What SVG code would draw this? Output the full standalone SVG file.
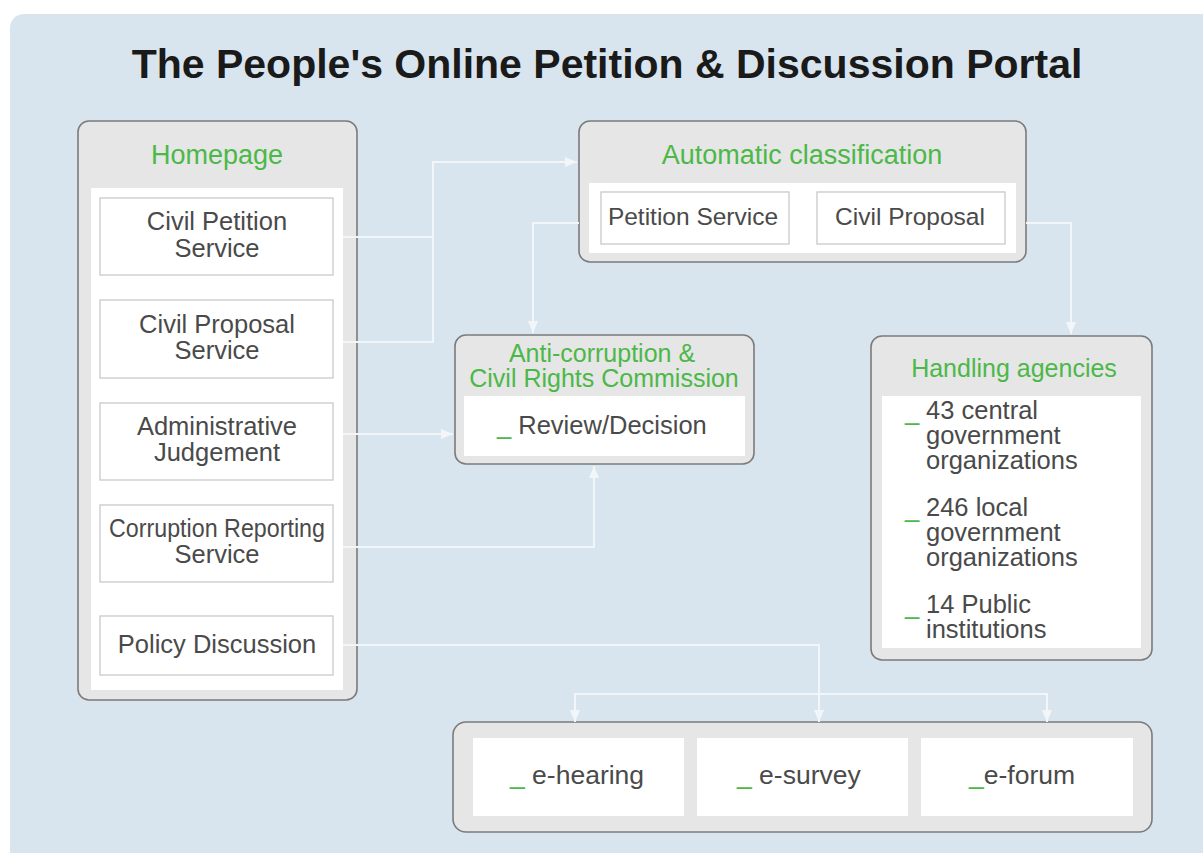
<svg xmlns="http://www.w3.org/2000/svg" width="1203" height="853" viewBox="0 0 1203 853">
<defs>
<style>
.box{fill:#e6e6e6;stroke:#7b7b7b;stroke-width:1.6}
.inner{fill:#ffffff}
.sub{fill:#ffffff;stroke:#c9c9c9;stroke-width:1.3}
.head{font-family:"Liberation Sans",Arial,sans-serif;font-size:27px;fill:#4cb848;text-anchor:middle}
.head2{font-family:"Liberation Sans",Arial,sans-serif;font-size:25px;fill:#4cb848;text-anchor:middle}
.txt{font-family:"Liberation Sans",Arial,sans-serif;font-size:25.5px;fill:#4a4a4a;text-anchor:middle}
.lt{font-family:"Liberation Sans",Arial,sans-serif;font-size:25.5px;fill:#4a4a4a}
.g{fill:#4cb848}
.conn{fill:none;stroke:#f3f6f8;stroke-width:2}
</style>
<marker id="ah" viewBox="0 0 12 10" refX="12" refY="5" markerWidth="12" markerHeight="10" markerUnits="userSpaceOnUse" orient="auto">
<path d="M0,0 L12,5 L0,10 Z" fill="#f3f6f8"/>
</marker>
</defs>
<rect x="0" y="0" width="1203" height="853" fill="#ffffff"/>
<rect x="10" y="14" width="1210" height="860" rx="14" fill="#d9e5ee"/>
<text x="607" y="78" font-family="Liberation Sans,Arial,sans-serif" font-size="41" font-weight="bold" fill="#1a1a1a" text-anchor="middle">The People's Online Petition &amp; Discussion Portal</text>

<g id="homepage">
<rect class="box" x="78" y="121" width="279" height="579" rx="11"/>
<rect class="inner" x="91" y="188" width="252" height="502"/>
<text class="head" x="217" y="164">Homepage</text>
</g>
<g id="civil-petition-service">
<rect class="sub" x="100" y="198" width="233" height="77"/>
<text class="txt" x="217" y="230">Civil Petition</text>
<text class="txt" x="217" y="257">Service</text>
</g>
<g id="civil-proposal-service">
<rect class="sub" x="100" y="300" width="233" height="78"/>
<text class="txt" x="217" y="333">Civil Proposal</text>
<text class="txt" x="217" y="359">Service</text>
</g>
<g id="administrative-judgement">
<rect class="sub" x="100" y="403" width="233" height="77"/>
<text class="txt" x="217" y="435">Administrative</text>
<text class="txt" x="217" y="461">Judgement</text>
</g>
<g id="corruption-reporting-service">
<rect class="sub" x="100" y="505" width="233" height="77"/>
<text class="txt" x="217" y="537" textLength="216" lengthAdjust="spacingAndGlyphs">Corruption Reporting</text>
<text class="txt" x="217" y="563">Service</text>
</g>
<g id="policy-discussion">
<rect class="sub" x="100" y="616" width="233" height="59"/>
<text class="txt" x="217" y="653">Policy Discussion</text>
</g>

<g id="automatic-classification">
<rect class="box" x="579" y="121" width="447" height="141" rx="11"/>
<rect class="inner" x="589" y="183" width="427" height="70"/>
<text class="head" x="802" y="164">Automatic classification</text>
</g>
<g id="petition-service">
<rect class="sub" x="601" y="192" width="188" height="52"/>
<text class="txt" x="693" y="225" style="font-size:24.5px">Petition Service</text>
</g>
<g id="civil-proposal">
<rect class="sub" x="817" y="192" width="188" height="52"/>
<text class="txt" x="910" y="225" style="font-size:24.5px">Civil Proposal</text>
</g>

<g id="acrc">
<rect class="box" x="455" y="335" width="299" height="129" rx="11"/>
<rect class="inner" x="464" y="396" width="281" height="60"/>
<text class="head2" x="602" y="362">Anti-corruption &amp;</text>
<text class="head2" x="604" y="387">Civil Rights Commission</text>
<text class="lt" x="497" y="434"><tspan class="g">_</tspan> Review/Decision</text>
</g>

<g id="handling-agencies">
<rect class="box" x="871" y="336" width="281" height="324" rx="11"/>
<rect class="inner" x="882" y="396" width="259" height="252"/>
<text class="head2" x="1014" y="377">Handling agencies</text>
<text class="lt" x="905" y="420"><tspan class="g">_</tspan></text>
<text class="lt" x="926" y="419">43 central</text>
<text class="lt" x="926" y="444">government</text>
<text class="lt" x="926" y="469">organizations</text>
<text class="lt" x="905" y="517"><tspan class="g">_</tspan></text>
<text class="lt" x="926" y="516">246 local</text>
<text class="lt" x="926" y="541">government</text>
<text class="lt" x="926" y="566">organizations</text>
<text class="lt" x="905" y="614"><tspan class="g">_</tspan></text>
<text class="lt" x="926" y="613">14 Public</text>
<text class="lt" x="926" y="638">institutions</text>
</g>

<g id="e-participation">
<rect class="box" x="453" y="722" width="699" height="110" rx="13"/>
</g>
<g id="e-hearing">
<rect class="inner" x="473" y="738" width="211" height="78"/>
<text class="lt" x="510" y="784" style="font-size:26.5px"><tspan class="g">_</tspan> e-hearing</text>
</g>
<g id="e-survey">
<rect class="inner" x="697" y="738" width="211" height="78"/>
<text class="lt" x="737" y="784" style="font-size:26.5px"><tspan class="g">_</tspan> e-survey</text>
</g>
<g id="e-forum">
<rect class="inner" x="921" y="738" width="212" height="78"/>
<text class="lt" x="969" y="784" style="font-size:26.5px"><tspan class="g">_</tspan>e-forum</text>
</g>

<g id="connectors">
<path class="conn" d="M343,237 H433 M343,342 H433 V162 H577" marker-end="url(#ah)"/>
<path class="conn" d="M579,223 H533 V333" marker-end="url(#ah)"/>
<path class="conn" d="M1026,223 H1071 V334" marker-end="url(#ah)"/>
<path class="conn" d="M343,434 H453" marker-end="url(#ah)"/>
<path class="conn" d="M343,547 H594 V466" marker-end="url(#ah)"/>
<path class="conn" d="M343,645 H819 V722" marker-end="url(#ah)"/>
<path class="conn" d="M575,722 V694 H1047 V722" marker-end="url(#ah)"/>
<path class="conn" d="M575,700 V722" marker-end="url(#ah)"/>
</g>
</svg>
